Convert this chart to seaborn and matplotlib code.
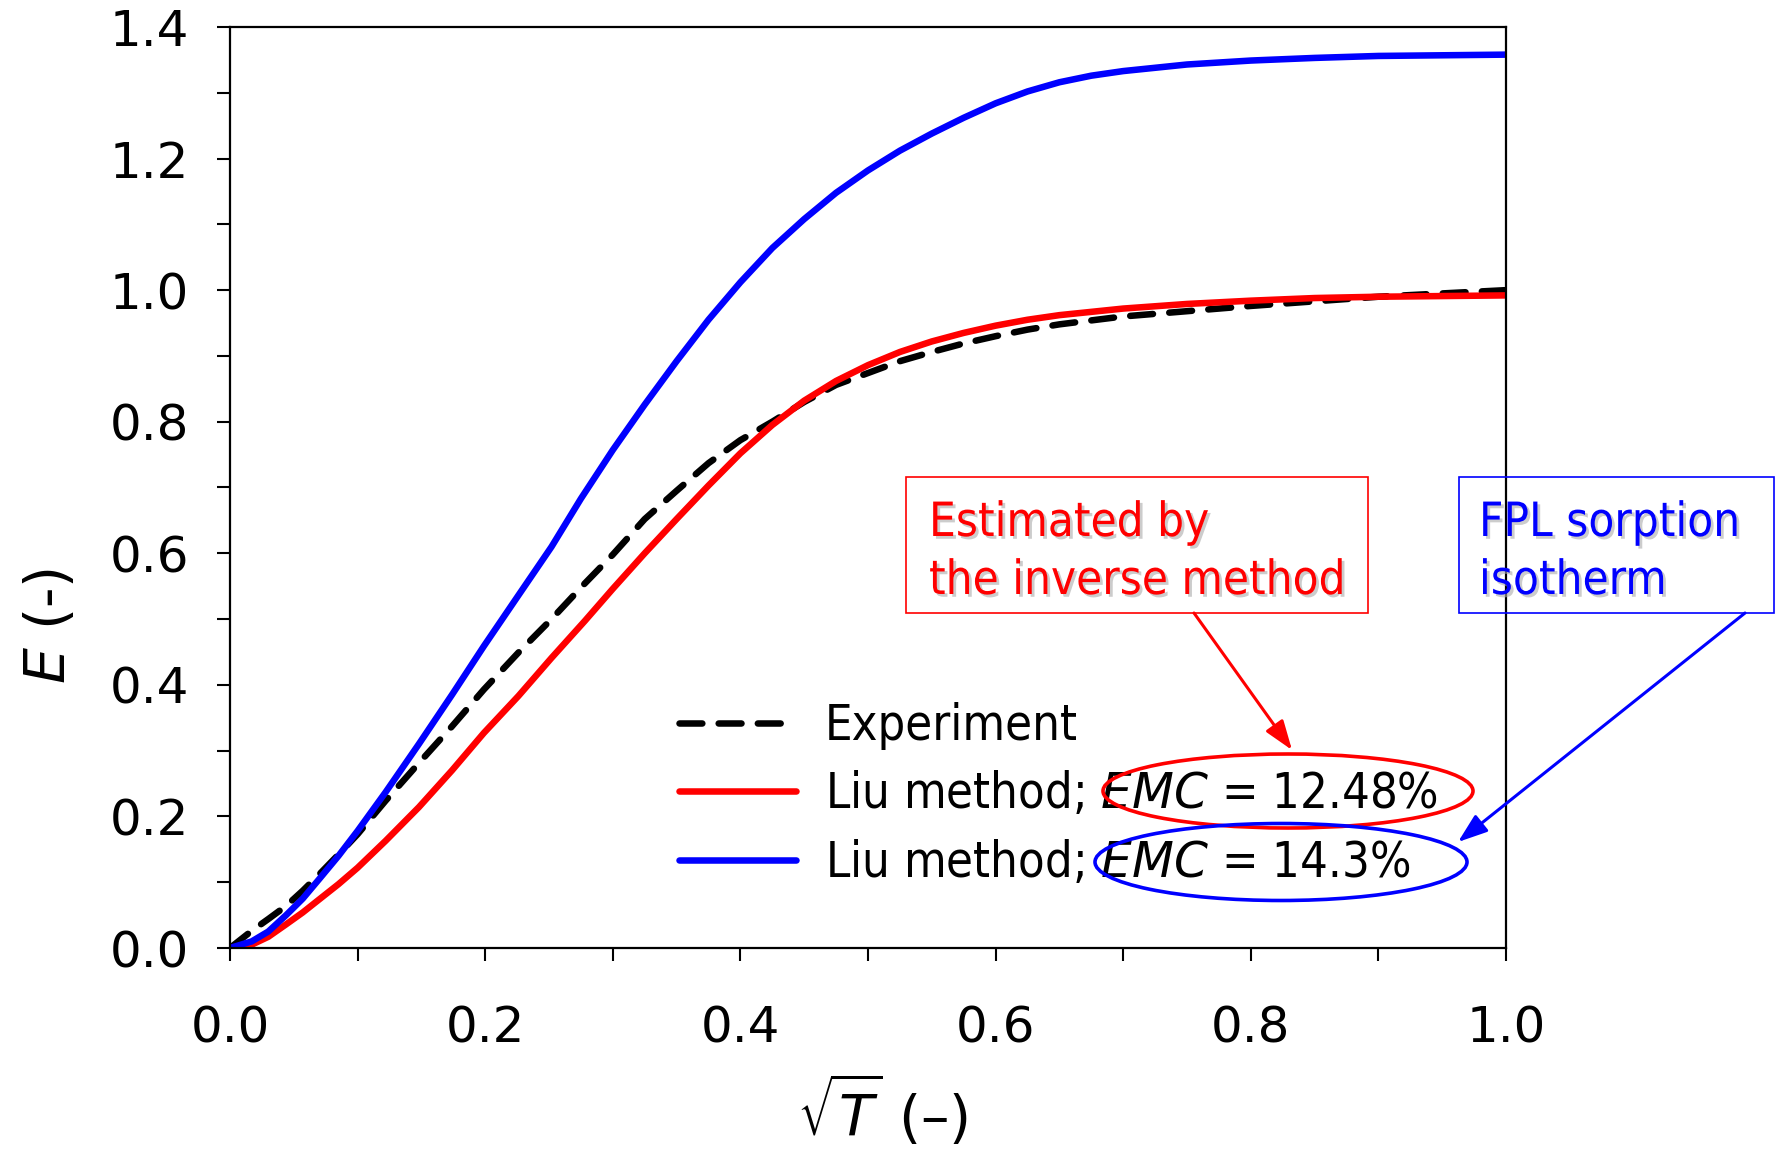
import matplotlib
matplotlib.use("Agg")
import numpy as np
import pandas as pd
import seaborn as sns
import matplotlib.pyplot as plt
from matplotlib.patches import Ellipse, Rectangle
import matplotlib.patheffects as pe

# ---------------- data ----------------
exp_x = [0, 0.017, 0.03, 0.044, 0.057, 0.07, 0.085, 0.1, 0.122, 0.148, 0.174, 0.199,
         0.226, 0.252, 0.278, 0.3, 0.325, 0.35, 0.375, 0.4, 0.425, 0.45, 0.475, 0.5,
         0.525, 0.55, 0.575, 0.6, 0.625, 0.65, 0.7, 0.75, 0.8, 0.85, 0.9, 0.95, 1.0]
exp_y = [0, 0.026, 0.044, 0.064, 0.087, 0.112, 0.142, 0.173, 0.224, 0.281, 0.337, 0.393,
         0.449, 0.5, 0.554, 0.598, 0.652, 0.695, 0.737, 0.772, 0.8, 0.83, 0.856, 0.874,
         0.892, 0.906, 0.919, 0.93, 0.94, 0.948, 0.96, 0.968, 0.976, 0.983, 0.99, 0.995,
         1.0]

red_x = [0, 0.017, 0.03, 0.044, 0.057, 0.07, 0.085, 0.1, 0.122, 0.148, 0.174, 0.199,
         0.226, 0.252, 0.278, 0.3, 0.325, 0.35, 0.375, 0.4, 0.425, 0.45, 0.475, 0.5,
         0.525, 0.55, 0.575, 0.6, 0.625, 0.65, 0.7, 0.75, 0.8, 0.85, 0.9, 0.95, 1.0]
red_y = [0, 0.005, 0.017, 0.036, 0.054, 0.074, 0.097, 0.122, 0.163, 0.214, 0.27, 0.327,
         0.383, 0.441, 0.497, 0.546, 0.6, 0.652, 0.703, 0.752, 0.795, 0.832, 0.862, 0.886,
         0.906, 0.922, 0.935, 0.946, 0.955, 0.962, 0.972, 0.979, 0.984, 0.988, 0.99,
         0.991, 0.992]

blue_x = [0, 0.017, 0.03, 0.044, 0.057, 0.07, 0.085, 0.1, 0.122, 0.148, 0.174, 0.199,
          0.226, 0.252, 0.275, 0.3, 0.325, 0.35, 0.375, 0.4, 0.425, 0.45, 0.475, 0.5,
          0.525, 0.55, 0.575, 0.6, 0.625, 0.65, 0.675, 0.7, 0.75, 0.8, 0.85, 0.9, 0.95,
          1.0]
blue_y = [0, 0.01, 0.025, 0.05, 0.075, 0.105, 0.14, 0.178, 0.237, 0.31, 0.385, 0.459,
          0.536, 0.61, 0.683, 0.757, 0.826, 0.892, 0.955, 1.012, 1.064, 1.108, 1.148,
          1.182, 1.212, 1.238, 1.262, 1.284, 1.302, 1.316, 1.326, 1.333, 1.343, 1.349,
          1.353, 1.356, 1.357, 1.358]

series_labels = ["Experiment",
                 r"Liu method; $\mathit{EMC}$ = 12.48%",
                 r"Liu method; $\mathit{EMC}$ = 14.3%"]
x_ticks = [0.0, 0.2, 0.4, 0.6, 0.8, 1.0]
y_ticks = [0.0, 0.2, 0.4, 0.6, 0.8, 1.0, 1.2, 1.4]
red_note = ["Estimated by", "the inverse method"]
blue_note = ["FPL sorption", "isotherm"]

# ---------------- style ----------------
sns.set_theme(style="ticks")
plt.rcParams["font.family"] = ["DejaVu Sans"]
plt.rcParams["mathtext.fontset"] = "dejavusans"
plt.rcParams.update({
    "text.color": "black",
    "axes.labelcolor": "black",
    "xtick.color": "black", "ytick.color": "black",
    "axes.linewidth": 1.6,
    "xtick.major.size": 9.5, "xtick.minor.size": 9.5,
    "ytick.major.size": 9.5, "ytick.minor.size": 9.5,
    "xtick.major.width": 1.5, "xtick.minor.width": 1.5,
    "ytick.major.width": 1.5, "ytick.minor.width": 1.5,
    "xtick.direction": "out", "ytick.direction": "out",
    "axes.edgecolor": "black",
})

W, H = 1780, 1152
def fx(px):
    return px / W
def fy(py):
    return 1 - py / H

fig = plt.figure(figsize=(W / 100, H / 100), dpi=100)
ax = fig.add_axes([fx(230), fy(948), (1506 - 230) / W, (948 - 27) / H])

df_exp = pd.DataFrame({"x": exp_x, "E": exp_y})
df_red = pd.DataFrame({"x": red_x, "E": red_y})
df_blue = pd.DataFrame({"x": blue_x, "E": blue_y})

lw = 4.7
sns.lineplot(data=df_exp, x="x", y="E", ax=ax, color="black", linewidth=lw,
             linestyle=(0, (3.5, 2.5)), dash_capstyle="round",
             estimator=None, label=series_labels[0])
sns.lineplot(data=df_red, x="x", y="E", ax=ax, color="#ff0000", linewidth=lw,
             estimator=None, label=series_labels[1], solid_capstyle="round",
             solid_joinstyle="round")
sns.lineplot(data=df_blue, x="x", y="E", ax=ax, color="#0000ff", linewidth=lw,
             estimator=None, label=series_labels[2], solid_capstyle="round",
             solid_joinstyle="round")

ax.set_xlim(0, 1.0)
ax.set_ylim(0, 1.4)
ax.set_xticks(x_ticks)
ax.set_yticks(y_ticks)
ax.set_xticklabels([f"{v:.1f}" for v in x_ticks])
ax.set_yticklabels([f"{v:.1f}" for v in y_ticks])
ax.set_xticks(np.arange(0.1, 1.0, 0.2), minor=True)
ax.set_yticks(np.arange(0.1, 1.4, 0.2), minor=True)
ax.tick_params(axis="x", which="major", labelsize=36, pad=31, colors="black")
ax.tick_params(axis="y", which="major", labelsize=36, pad=20, colors="black")
ax.tick_params(which="minor", colors="black")
for s in ax.spines.values():
    s.set_visible(True)
    s.set_color("black")
ax.set_xlabel("")
ax.set_ylabel("")

fig.text(fx(51), fy(626), r"$E$ (-)", rotation=90, ha="center", va="center",
         fontsize=41, color="black")
fig.text(fx(883), fy(1111), r"$\sqrt{T}$ (–)", ha="center", va="center",
         fontsize=41, color="black")

cond = dict(family="DejaVu Sans", stretch="condensed")
leg = ax.legend(loc="upper left", bbox_to_anchor=(fx(679), fy(702)),
                bbox_transform=fig.transFigure, frameon=False,
                prop=dict(size=35, **cond), handlelength=2.4, handletextpad=0.6,
                labelspacing=0.42, borderpad=0, borderaxespad=0)
for line in leg.get_lines():
    line.set_linewidth(lw)
for t in leg.get_texts():
    t.set_color("black")

# annotation boxes
shadow = [pe.withSimplePatchShadow(offset=(2, -2), shadow_rgbFace="#aaaaaa", alpha=0.6)]
fig.add_artist(Rectangle((fx(906), fy(613)), (1368 - 906) / W, (613 - 477) / H,
                         transform=fig.transFigure, fill=False, ec="#ff0000", lw=1.2))
fig.add_artist(Rectangle((fx(1459), fy(613)), (1774 - 1459) / W, (613 - 477) / H,
                         transform=fig.transFigure, fill=False, ec="#0000ff", lw=1.2))
for i, t in enumerate(red_note):
    fig.text(fx(929), fy(536 + 58 * i), t, color="#ff0000", fontsize=34, va="baseline",
             ha="left", path_effects=shadow, **cond)
for i, t in enumerate(blue_note):
    fig.text(fx(1479), fy(536 + 58 * i), t, color="#0000ff", fontsize=34, va="baseline",
             ha="left", path_effects=shadow, **cond)

# ellipses
fig.add_artist(Ellipse((fx(1288), fy(791)), 370 / W, 74 / H, transform=fig.transFigure,
                       fill=False, ec="#ff0000", lw=2.6))
fig.add_artist(Ellipse((fx(1281), fy(862)), 372 / W, 77 / H, transform=fig.transFigure,
                       fill=False, ec="#0000ff", lw=2.6))

# arrows
ax.annotate("", xy=(fx(1292), fy(750)), xycoords="figure fraction",
            xytext=(fx(1194), fy(613)), textcoords="figure fraction",
            arrowprops=dict(arrowstyle="-|>,head_length=0.9,head_width=0.32",
                            color="#ff0000", lw=2.2, mutation_scale=20,
                            shrinkA=0, shrinkB=0), annotation_clip=False)
ax.annotate("", xy=(fx(1458), fy(842)), xycoords="figure fraction",
            xytext=(fx(1745), fy(613)), textcoords="figure fraction",
            arrowprops=dict(arrowstyle="-|>,head_length=0.9,head_width=0.32",
                            color="#0000ff", lw=2.2, mutation_scale=20,
                            shrinkA=0, shrinkB=0), annotation_clip=False)

fig.savefig("out.png", dpi=100, facecolor="white")
